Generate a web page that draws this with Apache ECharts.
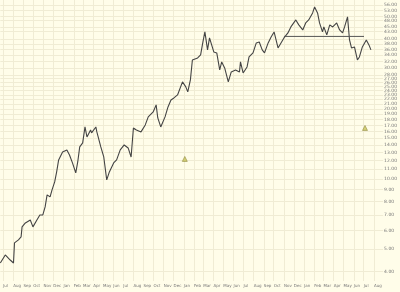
<!DOCTYPE html>
<html>
<head>
<meta charset="utf-8">
<script src="https://cdn.jsdelivr.net/npm/echarts@6/dist/echarts.min.js"></script>
<style>
html,body{margin:0;padding:0;background:#FFFDE9;}
#chart{width:400px;height:292px;}
</style>
</head>
<body>
<div id="chart"></div>
<script>
// ---- data ----
var dates = [
'2004-06-23','2004-07-08','2004-07-23','2004-08-02','2004-08-05','2004-08-17','2004-08-25','2004-08-28',
'2004-09-07','2004-09-22','2004-09-30','2004-10-12','2004-10-21','2004-10-30','2004-11-06','2004-11-12',
'2004-11-21','2004-11-27','2004-12-05','2004-12-11','2004-12-17','2004-12-29','2005-01-11','2005-01-19',
'2005-01-28','2005-02-07','2005-02-13','2005-02-19','2005-02-28','2005-03-07','2005-03-13','2005-03-24',
'2005-03-27','2005-04-09','2005-04-12','2005-04-24','2005-05-03','2005-05-12','2005-05-20','2005-06-02',
'2005-06-11','2005-06-22','2005-07-04','2005-07-16','2005-07-25','2005-08-01','2005-08-10','2005-08-24',
'2005-09-06','2005-09-15','2005-09-30','2005-10-09','2005-10-14','2005-10-23','2005-11-05','2005-11-14',
'2005-11-23','2005-12-02','2005-12-13','2005-12-28','2006-01-07','2006-01-13','2006-01-21','2006-01-27',
'2006-02-12','2006-02-21','2006-02-28','2006-03-06','2006-03-14','2006-03-20','2006-04-02','2006-04-11',
'2006-04-20','2006-04-26','2006-05-05','2006-05-16','2006-05-25','2006-06-07','2006-06-19','2006-06-22',
'2006-06-30','2006-07-12','2006-07-18','2006-07-30','2006-08-09','2006-08-18','2006-08-27','2006-09-03',
'2006-09-14','2006-09-23','2006-10-02','2006-10-14','2006-10-23','2006-11-01','2006-11-13','2006-11-22',
'2006-12-07','2006-12-16','2006-12-28','2007-01-06','2007-01-15','2007-01-27','2007-02-02','2007-02-11',
'2007-02-17','2007-02-26','2007-03-02','2007-03-11','2007-03-20','2007-03-29','2007-04-10','2007-04-19',
'2007-04-28','2007-05-04','2007-05-13','2007-05-19','2007-05-25','2007-06-03','2007-06-12','2007-06-18',
'2007-06-27','2007-07-09','2007-07-17','2007-07-23'
];
var closes = [
4.35,4.71,4.48,4.35,5.31,5.47,5.63,6.22,
6.47,6.66,6.22,6.66,7.00,7.00,7.58,8.54,
8.37,8.97,9.71,10.72,12.07,13.06,13.33,12.68,
11.72,10.61,11.83,13.73,14.28,16.73,15.16,16.24,
15.77,16.73,15.93,13.73,12.43,9.90,10.72,11.72,
12.07,13.33,14.00,13.59,12.43,16.57,16.24,15.93,
17.07,18.48,19.41,20.81,18.29,16.73,18.48,20.40,
21.86,22.30,22.97,26.13,24.87,23.67,26.65,32.48,
33.14,34.13,38.82,42.86,35.87,40.39,35.16,34.82,
29.42,31.85,30.01,26.13,28.85,29.42,28.85,31.85,
28.56,30.31,33.46,34.82,38.44,38.82,35.87,34.82,
38.44,40.79,42.86,36.58,38.44,40.39,42.44,45.04,
48.28,45.95,43.72,46.86,48.28,51.74,54.90,51.74,
46.86,42.86,45.04,41.61,45.95,45.04,46.86,43.72,
42.44,45.04,49.73,39.60,36.58,36.95,32.48,33.46,
36.95,39.60,37.69,35.87
];
var trendDates = ['2006-11-01','2007-07-02'];
var trendValues = [41.0, 41.0];
var eventDates = ['2006-01-04','2007-07-05'];
var eventValues = [12.19, 16.57];
var yTickLabels = [56,53,50,48,45,43,40,38,36,34,32,30,28,27,26,25,24,23,22,21,20,19,18,17,16,15,14,13,12,11,10,9,8,7,6,5,4];
var monthNames = ['Jan','Feb','Mar','Apr','May','Jun','Jul','Aug','Sep','Oct','Nov','Dec'];
var monthTicks = [];
(function(){
  for (var y = 2004, m = 6; !(y === 2007 && m > 7); ) {
    monthTicks.push(Date.UTC(y, m, 1));
    m++; if (m > 11) { m = 0; y++; }
  }
})();

function lg(v){ return Math.log10(v); }
function t(d){ return Date.parse(d); }
function pairs(ds, vs){ return ds.map(function(d,i){ return [t(d), lg(vs[i])]; }); }

var chart = echarts.init(document.getElementById('chart'), null, {renderer:'canvas'});
var gridColor = '#F0ECD4';
chart.setOption({
  backgroundColor: '#FFFDE9',
  animation: false,
  grid: { left: 0, right: 11, top: 0, bottom: 11 },
  xAxis: {
    type: 'value',
    min: t('2004-06-23'),
    max: t('2007-08-29'),
    axisLine: { show: false },
    axisTick: { show: false, customValues: monthTicks },
    axisLabel: {
      customValues: monthTicks,
      fontSize: 4,
      color: '#777',
      margin: 3,
      align: 'left',
      fontFamily: 'DejaVu Sans',
      formatter: function(v){ return monthNames[new Date(v).getUTCMonth()]; }
    },
    splitLine: { show: true, lineStyle: { color: gridColor, width: 1 } }
  },
  yAxis: {
    type: 'value',
    position: 'right',
    min: lg(3.64),
    max: lg(58.8),
    axisLine: { show: false },
    axisTick: { show: false, customValues: yTickLabels.map(lg) },
    axisLabel: {
      customValues: yTickLabels.map(lg),
      fontSize: 4.5,
      color: '#777',
      margin: 1,
      fontFamily: 'DejaVu Sans',
      formatter: function(v){ return Math.pow(10, v).toFixed(2); }
    },
    splitLine: { show: true, lineStyle: { color: gridColor, width: 1 } }
  },
  series: [
    {
      name: 'price', type: 'line', data: pairs(dates, closes),
      showSymbol: false, symbol: 'none',
      lineStyle: { color: '#444', width: 1.1 }
    },
    {
      name: 'trend', type: 'line', data: pairs(trendDates, trendValues),
      showSymbol: false, symbol: 'none',
      lineStyle: { color: '#555', width: 1 }
    },
    {
      name: 'events', type: 'scatter', data: pairs(eventDates, eventValues),
      symbol: 'triangle', symbolSize: 5,
      itemStyle: { color: '#C9C45A', borderColor: '#7a7426', borderWidth: 0.6 }
    }
  ]
});
</script>
</body>
</html>
